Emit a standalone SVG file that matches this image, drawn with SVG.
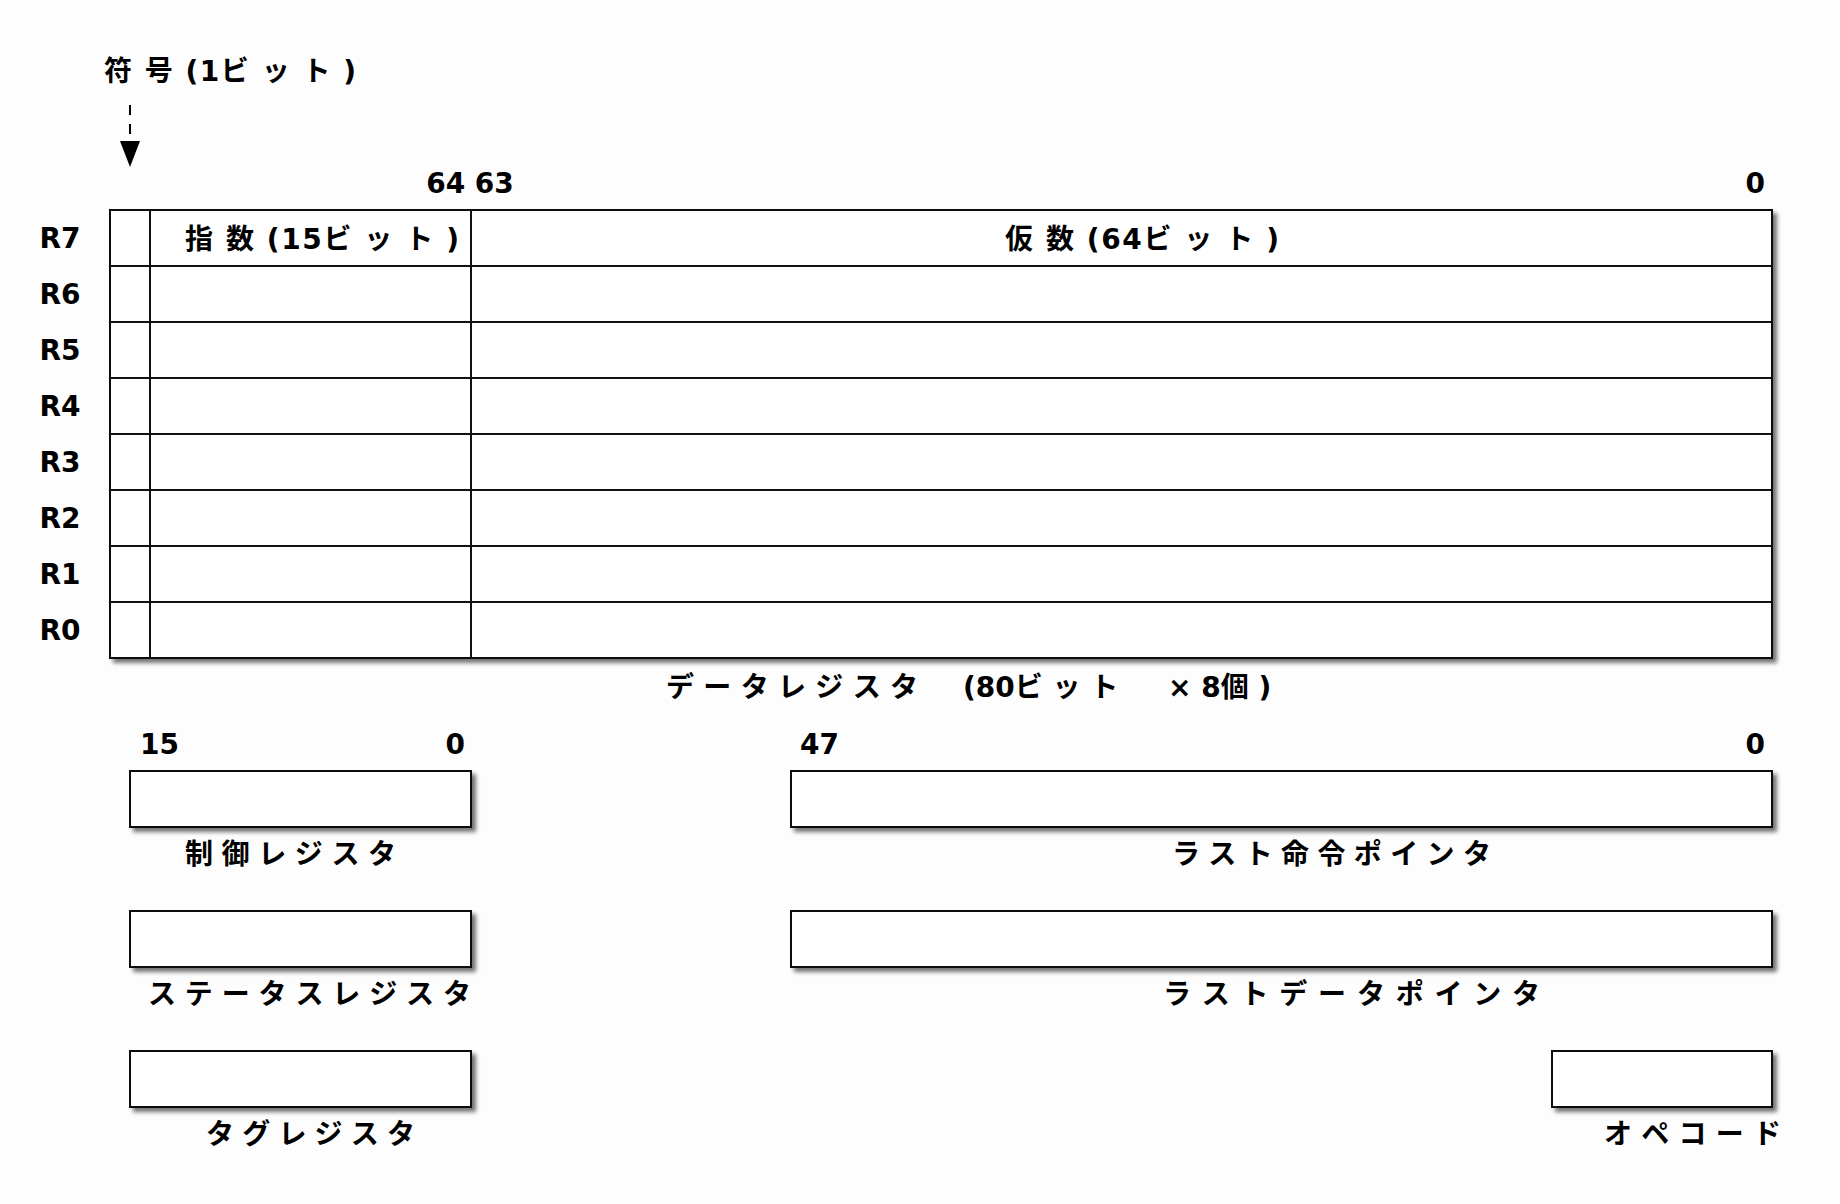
<svg xmlns="http://www.w3.org/2000/svg" width="1840" height="1204" viewBox="0 0 1840 1204">
<defs>
<style>
.t{font-family:"DejaVu Sans","Noto Sans CJK JP",sans-serif;font-weight:bold;font-size:28px;fill:#000}
.m{text-anchor:middle}
.e{text-anchor:end}
.box{fill:#fff;stroke:#111;stroke-width:2}
.ln{stroke:#111;stroke-width:2;fill:none}
</style>
<filter id="sh" x="-5%" y="-20%" width="110%" height="140%">
<feGaussianBlur in="SourceAlpha" stdDeviation="2"/>
<feOffset dx="4" dy="4" result="b"/>
<feComponentTransfer><feFuncA type="linear" slope="0.55"/></feComponentTransfer>
<feMerge><feMergeNode/><feMergeNode in="SourceGraphic"/></feMerge>
</filter>
<marker id="ah" markerUnits="userSpaceOnUse" markerWidth="26" markerHeight="20" refX="0" refY="10" orient="auto" viewBox="0 0 26 20">
<path d="M0,0 L26,10 L0,20 z" fill="#000"/>
</marker>
</defs>
<rect width="1840" height="1204" fill="#fdfdfd"/>

<g id="sign-label">
<text class="t" x="104" y="81" textLength="252" lengthAdjust="spacing">符 号 (1ビ ッ ト )</text>
</g>

<g id="connectors">
<line x1="130" y1="105" x2="130" y2="141" stroke="#000" stroke-width="2" stroke-dasharray="10 9" marker-end="url(#ah)"/>
</g>

<g id="bit-numbers-data">
<text class="t m" x="470" y="193">64 63</text>
<text class="t e" x="1765" y="193">0</text>
</g>

<g id="data-registers">
<rect class="box" x="110" y="210" width="1662" height="448" filter="url(#sh)"/>
<g id="r7"><line class="ln" x1="110" y1="266" x2="1772" y2="266"/><text class="t m" x="60" y="248">R7</text>
<text class="t" x="185" y="249" textLength="274" lengthAdjust="spacing">指 数 (15ビ ッ ト )</text>
<text class="t" x="1005" y="249" textLength="274" lengthAdjust="spacing">仮 数 (64ビ ッ ト )</text></g>
<g id="r6"><line class="ln" x1="110" y1="322" x2="1772" y2="322"/><text class="t m" x="60" y="304">R6</text></g>
<g id="r5"><line class="ln" x1="110" y1="378" x2="1772" y2="378"/><text class="t m" x="60" y="360">R5</text></g>
<g id="r4"><line class="ln" x1="110" y1="434" x2="1772" y2="434"/><text class="t m" x="60" y="416">R4</text></g>
<g id="r3"><line class="ln" x1="110" y1="490" x2="1772" y2="490"/><text class="t m" x="60" y="472">R3</text></g>
<g id="r2"><line class="ln" x1="110" y1="546" x2="1772" y2="546"/><text class="t m" x="60" y="528">R2</text></g>
<g id="r1"><line class="ln" x1="110" y1="602" x2="1772" y2="602"/><text class="t m" x="60" y="584">R1</text></g>
<g id="r0"><text class="t m" x="60" y="640">R0</text></g>
<line class="ln" x1="150" y1="210" x2="150" y2="658"/>
<line class="ln" x1="471" y1="210" x2="471" y2="658"/>
<text class="t" y="697"><tspan x="666" textLength="252" lengthAdjust="spacing">デ ー タ レ ジ ス タ</tspan><tspan x="963">(80ビ ッ ト</tspan><tspan x="1168">× 8個 )</tspan></text>
</g>

<g id="control-register">
<text class="t" x="140" y="754">15</text>
<text class="t e" x="465" y="754">0</text>
<rect class="box" x="130" y="771" width="341" height="56" filter="url(#sh)"/>
<text class="t" x="185" y="864" textLength="211" lengthAdjust="spacing">制 御 レ ジ ス タ</text>
</g>

<g id="status-register">
<rect class="box" x="130" y="911" width="341" height="56" filter="url(#sh)"/>
<text class="t" x="148" y="1004" textLength="323" lengthAdjust="spacing">ス テ ー タ ス レ ジ ス タ</text>
</g>

<g id="tag-register">
<rect class="box" x="130" y="1051" width="341" height="56" filter="url(#sh)"/>
<text class="t" x="206" y="1144" textLength="209" lengthAdjust="spacing">タ グ レ ジ ス タ</text>
</g>

<g id="last-instruction-pointer">
<text class="t" x="800" y="754">47</text>
<text class="t e" x="1765" y="754">0</text>
<rect class="box" x="791" y="771" width="981" height="56" filter="url(#sh)"/>
<text class="t" x="1172" y="864" textLength="319" lengthAdjust="spacing">ラ ス ト 命 令 ポ イ ン タ</text>
</g>

<g id="last-data-pointer">
<rect class="box" x="791" y="911" width="981" height="56" filter="url(#sh)"/>
<text class="t" x="1163" y="1004" textLength="377" lengthAdjust="spacing">ラ ス ト デ ー タ ポ イ ン タ</text>
</g>

<g id="opcode">
<rect class="box" x="1552" y="1051" width="220" height="56" filter="url(#sh)"/>
<text class="t" x="1604" y="1144" textLength="177" lengthAdjust="spacing">オ ペ コ ー ド</text>
</g>
</svg>
